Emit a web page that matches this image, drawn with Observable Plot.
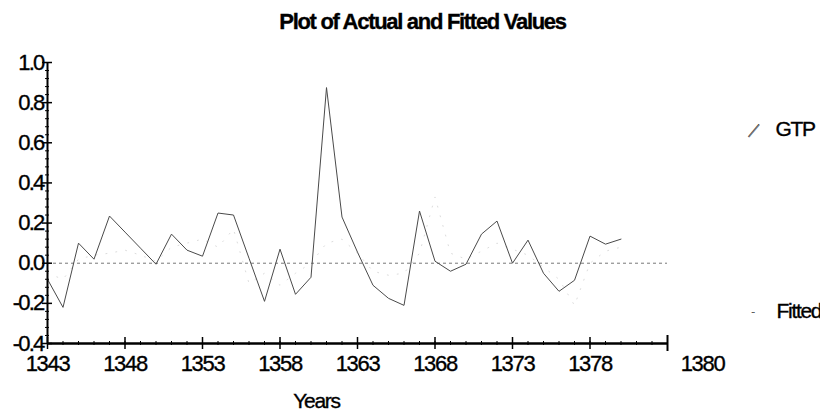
<!DOCTYPE html>
<html>
<head>
<meta charset="utf-8">
<script src="https://cdn.jsdelivr.net/npm/d3@7"></script>
<script src="https://cdn.jsdelivr.net/npm/@observablehq/plot@0.6"></script>
<style>
  html, body { margin: 0; padding: 0; background: #fff; overflow: hidden; }
  svg text { letter-spacing: -1.3px; stroke: #000; stroke-width: 0.35px; }
  svg g[aria-label="title"] text { letter-spacing: -2.8px; stroke: none; }
  svg g[aria-label="legend-text"] text { letter-spacing: -2.2px; }
  svg g[aria-label="legend-swatch"] text { stroke: none !important; }
  svg g[aria-label="y-axis tick label"] text { letter-spacing: -1.8px; }
</style>
</head>
<body>
<div id="chart"></div>
<script>
// ---- data ----
const years = [1343,1344,1345,1346,1347,1348,1349,1350,1351,1352,1353,1354,1355,1356,1357,1358,1359,1360,1361,1362,
               1363,1364,1365,1366,1367,1368,1369,1370,1371,1372,1373,1374,1375,1376,1377,1378,1379,1380];
const gtp = [-0.08,-0.22,0.10,0.02,0.235,0.155,0.075,-0.005,0.145,0.065,0.035,0.25,0.24,0.025,-0.19,0.07,-0.155,-0.07,0.875,0.23,
             0.055,-0.11,-0.175,-0.21,0.26,0.01,-0.04,-0.005,0.145,0.21,0.0,0.115,-0.05,-0.14,-0.085,0.135,0.095,0.12];
const fitted = [-0.05,-0.08,0.02,0.04,0.05,0.065,0.04,0.01,0.08,0.10,0.12,0.08,0.17,-0.10,-0.05,-0.11,-0.05,0.0,0.10,0.12,
                0.05,-0.04,-0.06,-0.05,0.05,0.33,0.05,0.02,0.06,0.10,0.07,0.04,-0.02,-0.08,-0.21,0.0,0.06,0.08];
const xDomain = [1343, 1383];
const yDomain = [-0.4, 1.0];
const xTicks = [1343,1348,1353,1358,1363,1368,1373,1378];
const xTickLabels = ["1343","1348","1353","1358","1363","1368","1373","1378"];
const xMinorTicks = [1343,1344,1345,1346,1347,1348,1349,1350,1351,1352,1353,1354,1355,1356,1357,1358,1359,1360,1361,1362,
                     1363,1364,1365,1366,1367,1368,1369,1370,1371,1372,1373,1374,1375,1376,1377,1378,1379,1380,1381,1382];
const xEndTick = [1383];
const xEndLabel = ["1380"];
const yTicks = [-0.4,-0.2,0.0,0.2,0.4,0.6,0.8,1.0];
const yTickLabels = ["-0.4","-0.2","0.0","0.2","0.4","0.6","0.8","1.0"];
const yMinorTicks = [-0.36,-0.32,-0.28,-0.24,-0.16,-0.12,-0.08,-0.04,0.04,0.08,0.12,0.16,0.24,0.28,0.32,0.36,
                     0.44,0.48,0.52,0.56,0.64,0.68,0.72,0.76,0.84,0.88,0.92,0.96];
const titleText = ["Plot of Actual and Fitted Values"];
const xLabel = ["Years"];
const seriesNames = ["GTP", "Fitted"];

const actualRows = years.map((yr, i) => ({year: yr, value: gtp[i]}));
const fittedRows = years.map((yr, i) => ({year: yr, value: fitted[i]}));
const blank = () => "";

const chart = Plot.plot({
  width: 820,
  height: 410,
  marginLeft: 47,
  marginRight: 153,
  marginTop: 62,
  marginBottom: 67,
  x: {domain: xDomain, axis: null},
  y: {domain: yDomain, axis: null},
  style: {fontFamily: "'Liberation Sans', Arial, sans-serif", background: "#fff", color: "#000", overflow: "hidden"},
  marks: [
    // zero reference line
    Plot.ruleY([0], {x1: xDomain[0], x2: xDomain[1], stroke: "#777", strokeWidth: 1, strokeDasharray: "3,3"}),
    // fitted (very faint dotted)
    Plot.line(fittedRows, {x: "year", y: "value", stroke: "#dcdcdc", strokeWidth: 1, strokeDasharray: "1,9"}),
    // actual
    Plot.line(actualRows, {x: "year", y: "value", stroke: "#4a4a4a", strokeWidth: 1}),
    // axis lines
    Plot.ruleX([xDomain[0]], {stroke: "#000", strokeWidth: 2}),
    Plot.ruleY([yDomain[0]], {stroke: "#000", strokeWidth: 2.5}),
    // y ticks
    Plot.axisY(yTicks, {tickSize: 10, dx: 5, tickFormat: blank, label: null, strokeWidth: 1.5}),
    Plot.axisY(yMinorTicks, {tickSize: 4, dx: 2, tickFormat: blank, label: null, strokeWidth: 1}),
    Plot.axisY(yTicks, {tickSize: 0, tickPadding: 4, fontSize: 22, label: null,
      tickFormat: d => yTickLabels[yTicks.indexOf(d)]}),
    // x ticks
    Plot.axisX(xTicks, {tickSize: 12, dy: -6, tickFormat: blank, label: null, strokeWidth: 1.5}),
    Plot.axisX(xMinorTicks, {tickSize: 4, dy: -2, tickFormat: blank, label: null, strokeWidth: 1}),
    Plot.axisX(xEndTick, {tickSize: 16, dy: -8, tickFormat: blank, label: null, strokeWidth: 2}),
    Plot.axisX(xTicks, {tickSize: 0, tickPadding: 12, fontSize: 22, label: null,
      tickFormat: d => xTickLabels[xTicks.indexOf(d)]}),
    Plot.text(xEndLabel, {text: d => d, frameAnchor: "bottom-right", dx: 35, dy: 12, lineAnchor: "top",
      textAnchor: "middle", fontSize: 22}),
    // title
    Plot.text(titleText, {text: d => d, frameAnchor: "top-left", dx: 375, dy: -34, lineAnchor: "bottom",
      textAnchor: "middle", fontWeight: "bold", fontSize: 22, ariaLabel: "title"}),
    // x axis label
    Plot.text(xLabel, {text: d => d, frameAnchor: "bottom-left", dx: 269, dy: 64, lineAnchor: "bottom",
      textAnchor: "middle", fontSize: 21}),
    // legend
    Plot.text(["—"], {text: d => d, frameAnchor: "top-left", dx: 705, dy: 68, rotate: -50, fontSize: 16,
      fill: "#9a9a9a", textAnchor: "middle", lineAnchor: "middle", ariaLabel: "legend-swatch"}),
    Plot.text(["-"], {text: d => d, frameAnchor: "top-left", dx: 705, dy: 249, fontSize: 10,
      fill: "#e0e0e0", textAnchor: "middle", lineAnchor: "middle", ariaLabel: "legend-swatch"}),
    Plot.text([seriesNames[0]], {text: d => d, frameAnchor: "top-left", dx: 728, dy: 73, lineAnchor: "bottom",
      textAnchor: "start", fontSize: 21, ariaLabel: "legend-text"}),
    Plot.text([seriesNames[1]], {text: d => d, frameAnchor: "top-left", dx: 729, dy: 255, lineAnchor: "bottom",
      textAnchor: "start", fontSize: 21, ariaLabel: "legend-text"})
  ]
});
document.getElementById("chart").appendChild(chart);
</script>
</body>
</html>
